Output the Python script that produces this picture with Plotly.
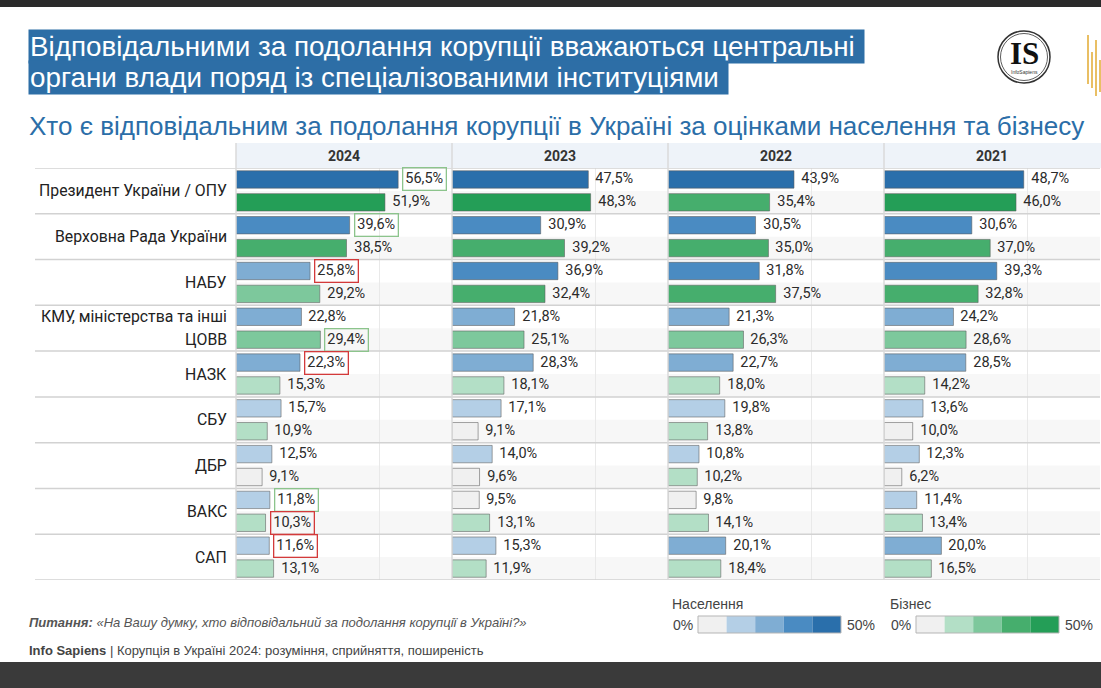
import plotly.graph_objects as go

W, H = 1101, 688

years = ["2024", "2023", "2022", "2021"]
categories = ["Президент України / ОПУ", "Верховна Рада України", "НАБУ",
              "КМУ, міністерства та інші\nЦОВВ", "НАЗК", "СБУ", "ДБР", "ВАКС", "САП"]

pop_2024 = [56.5, 39.6, 25.8, 22.8, 22.3, 15.7, 12.5, 11.8, 11.6]
biz_2024 = [51.9, 38.5, 29.2, 29.4, 15.3, 10.9, 9.1, 10.3, 13.1]
pop_2023 = [47.5, 30.9, 36.9, 21.8, 28.3, 17.1, 14.0, 9.5, 15.3]
biz_2023 = [48.3, 39.2, 32.4, 25.1, 18.1, 9.1, 9.6, 13.1, 11.9]
pop_2022 = [43.9, 30.5, 31.8, 21.3, 22.7, 19.8, 10.8, 9.8, 20.1]
biz_2022 = [35.4, 35.0, 37.5, 26.3, 18.0, 13.8, 10.2, 14.1, 18.4]
pop_2021 = [48.7, 30.6, 39.3, 24.2, 28.5, 13.6, 12.3, 11.4, 20.0]
biz_2021 = [46.0, 37.0, 32.8, 28.6, 14.2, 10.0, 6.2, 13.4, 16.5]

# highlighted labels in 2024: "g" = green frame, "r" = red frame
hl_pop_2024 = ["g", "g", "r", "", "r", "", "", "g", "r"]
hl_biz_2024 = ["", "", "", "g", "", "", "", "r", ""]
no_hl = [""] * len(categories)

pop_by_year = {"2024": pop_2024, "2023": pop_2023, "2022": pop_2022, "2021": pop_2021}
biz_by_year = {"2024": biz_2024, "2023": biz_2023, "2022": biz_2022, "2021": biz_2021}
hl_pop = {"2024": hl_pop_2024, "2023": no_hl, "2022": no_hl, "2021": no_hl}
hl_biz = {"2024": hl_biz_2024, "2023": no_hl, "2022": no_hl, "2021": no_hl}

legend_labels = ["Населення", "Бізнес"]
legend_ticks = ["0%", "50%"]

BLUES = ["#f0f0f0", "#b4cfe6", "#7fadd3", "#4a8bc2", "#2a6fab"]
GREENS = ["#f0f0f0", "#b3dfc6", "#7dc89c", "#46ae6d", "#249e57"]
FRAME = {"g": "#8cc48c", "r": "#d33a3a", "": "rgba(0,0,0,0)"}


def bin_idx(v):
    if v <= 10:
        return 0
    if v < 20:
        return 1
    if v < 30:
        return 2
    if v < 40:
        return 3
    return 4


def fmt(v):
    return f"{v:.1f}".replace(".", ",") + "%"


def px(x):
    return x / W


def py(y):
    return 1 - y / H


PANEL_L, PANEL_W = 236, 216
TOP, BOT, HEAD_TOP = 168, 580, 143
XMAX = PANEL_W / 2.87
n = len(categories)

fig = go.Figure()
shapes, annos = [], []

# header background
shapes.append(dict(type="rect", xref="paper", yref="paper", x0=px(PANEL_L), x1=1,
                   y0=py(TOP), y1=py(HEAD_TOP), fillcolor="#eef3f9", line_width=0, layer="below"))
# business row stripes
for i in range(n):
    shapes.append(dict(type="rect", xref="paper", yref="y", x0=px(PANEL_L), x1=px(1100),
                       y0=2 * i + 0.5, y1=2 * i + 1.5, fillcolor="#f7f7f7", line_width=0, layer="below"))
# category separators
for i in range(n + 1):
    shapes.append(dict(type="line", xref="paper", yref="y", x0=px(35), x1=px(1100),
                       y0=2 * i - 0.5, y1=2 * i - 0.5, line=dict(color="#d2d2d2", width=1.5), layer="above"))

for j, yr in enumerate(years):
    ax = "x" if j == 0 else f"x{j + 1}"
    axkey = "xaxis" if j == 0 else f"xaxis{j + 1}"
    x0p = PANEL_L + PANEL_W * j
    x1p = min(x0p + PANEL_W, 1100)
    fig.update_layout({axkey: dict(domain=[px(x0p), px(x1p)], range=[0, XMAX], anchor="y",
                                   tickvals=[50], showticklabels=False, showgrid=True,
                                   gridcolor="#e9e9e9", zeroline=False, fixedrange=True)})
    pops, bizs = pop_by_year[yr], biz_by_year[yr]
    fig.add_trace(go.Bar(orientation="h", x=pops, y=[2 * i for i in range(n)], width=0.76,
                         marker=dict(color=[BLUES[bin_idx(v)] for v in pops],
                                     line=dict(color="rgba(90,90,90,0.55)", width=1)),
                         xaxis=ax, yaxis="y", hoverinfo="skip", showlegend=False))
    fig.add_trace(go.Bar(orientation="h", x=bizs, y=[2 * i + 1 for i in range(n)], width=0.76,
                         marker=dict(color=[GREENS[bin_idx(v)] for v in bizs],
                                     line=dict(color="rgba(90,90,90,0.55)", width=1)),
                         xaxis=ax, yaxis="y", hoverinfo="skip", showlegend=False))
    for i in range(n):
        for v, yy, h in ((pops[i], 2 * i, hl_pop[yr][i]), (bizs[i], 2 * i + 1, hl_biz[yr][i])):
            annos.append(dict(x=v, y=yy, xref=ax, yref="y", text=fmt(v), showarrow=False,
                              xanchor="left", yanchor="middle", xshift=4,
                              font=dict(family="Roboto", size=14.5, color="#2b2b2b"),
                              bordercolor=FRAME[h], borderwidth=1.3, borderpad=2))
    # header label
    annos.append(dict(x=px((x0p + x1p) / 2), y=py(156), xref="paper", yref="paper", text=f"<b>{yr}</b>",
                      showarrow=False, xanchor="center", yanchor="middle",
                      font=dict(family="Roboto", size=14, color="#333333")))
    # vertical panel separator
    shapes.append(dict(type="line", xref="paper", yref="paper", x0=px(x0p), x1=px(x0p),
                       y0=py(BOT), y1=py(HEAD_TOP), line=dict(color="#dadada", width=1.5), layer="above"))

# category labels
for i, c in enumerate(categories):
    lines = c.split("\n")
    if len(lines) == 1:
        pos = [2 * i + 0.5]
    else:
        pos = [2 * i, 2 * i + 1]
    for t, yy in zip(lines, pos):
        annos.append(dict(x=px(229), y=yy, xref="paper", yref="y", text=t, showarrow=False,
                          xanchor="right", yanchor="middle",
                          font=dict(family="Roboto", size=15.8, color="#222222")))

# title and subtitle
TITLE_FONT = "Liberation Sans Narrow, Arial Narrow, Liberation Sans, sans-serif"
for t, yc in (("Відповідальними за подолання корупції вважаються центральні", 46),
              ("органи влади поряд із спеціалізованими інституціями", 78)):
    annos.append(dict(x=px(28), y=py(yc), xref="paper", yref="paper", text=t + " ", showarrow=False,
                      xanchor="left", yanchor="middle", bgcolor="#2d6ea6", borderpad=1,
                      font=dict(family=TITLE_FONT, size=27.8, color="white")))
annos.append(dict(x=px(27), y=py(126), xref="paper", yref="paper",
                  text="Хто є відповідальним за подолання корупції в Україні за оцінками населення та бізнесу",
                  showarrow=False, xanchor="left", yanchor="middle",
                  font=dict(family=TITLE_FONT, size=26, color="#2b6ea8")))

# footer
annos.append(dict(x=px(27), y=py(622), xref="paper", yref="paper", showarrow=False, xanchor="left",
                  yanchor="middle",
                  text="<b><i>Питання:</i></b> <i>«На Вашу думку, хто відповідальний за подолання корупції в Україні?»</i>",
                  font=dict(family=TITLE_FONT, size=13, color="#555555")))
annos.append(dict(x=px(27), y=py(650), xref="paper", yref="paper", showarrow=False, xanchor="left",
                  yanchor="middle",
                  text="<b>Info Sapiens</b> | Корупція в Україні 2024: розуміння, сприйняття, поширеність",
                  font=dict(family=TITLE_FONT, size=13, color="#444444")))

# colour legends
for lbl, pal, lx in ((legend_labels[0], BLUES, 698), (legend_labels[1], GREENS, 916)):
    bw = 28.6
    for k, col in enumerate(pal):
        shapes.append(dict(type="rect", xref="paper", yref="paper", x0=px(lx + k * bw), x1=px(lx + (k + 1) * bw),
                           y0=py(633), y1=py(616), fillcolor=col, line_width=0))
    shapes.append(dict(type="rect", xref="paper", yref="paper", x0=px(lx), x1=px(lx + 5 * bw),
                       y0=py(633), y1=py(616), line=dict(color="#b5b5b5", width=1)))
    annos.append(dict(x=px(lx - 28), y=py(604), xref="paper", yref="paper", text=lbl, showarrow=False,
                      xanchor="left", yanchor="middle", font=dict(family=TITLE_FONT, size=14, color="#444")))
    annos.append(dict(x=px(lx - 3), y=py(625), xref="paper", yref="paper", text=legend_ticks[0],
                      showarrow=False, xanchor="right", yanchor="middle",
                      font=dict(family=TITLE_FONT, size=14, color="#444")))
    annos.append(dict(x=px(lx + 5 * bw + 4), y=py(625), xref="paper", yref="paper", text=legend_ticks[1],
                      showarrow=False, xanchor="left", yanchor="middle",
                      font=dict(family=TITLE_FONT, size=14, color="#444")))

# dark bands top and bottom
shapes.append(dict(type="rect", xref="paper", yref="paper", x0=0, x1=1, y0=py(7), y1=1,
                   fillcolor="#2b2b2b", line_width=0))
shapes.append(dict(type="rect", xref="paper", yref="paper", x0=0, x1=1, y0=0, y1=py(662),
                   fillcolor="#3a3a3a", line_width=0))

# logo
cx, cy, r = 1024, 57, 26
for rr, wdt in ((r, 1.5), (r - 2.5, 0.8)):
    shapes.append(dict(type="circle", xref="paper", yref="paper", x0=px(cx - rr), x1=px(cx + rr),
                       y0=py(cy + rr), y1=py(cy - rr), line=dict(color="#333", width=wdt)))
annos.append(dict(x=px(cx), y=py(cy - 4), xref="paper", yref="paper", text="<b>IS</b>", showarrow=False,
                  xanchor="center", yanchor="middle",
                  font=dict(family="Liberation Serif, serif", size=31, color="#111")))
annos.append(dict(x=px(cx), y=py(cy + 15), xref="paper", yref="paper", text="InfoSapiens", showarrow=False,
                  xanchor="center", yanchor="middle",
                  font=dict(family="Liberation Sans", size=5, color="#333")))
for gx, gy0, gy1 in ((1088, 35, 84), (1092, 52, 88), (1096, 40, 96), (1100, 60, 92)):
    shapes.append(dict(type="line", xref="paper", yref="paper", x0=px(gx), x1=px(gx), y0=py(gy1), y1=py(gy0),
                       line=dict(color="#e2aa30", width=1.5)))

fig.update_layout(
    width=W, height=H, autosize=False,
    margin=dict(l=0, r=0, t=0, b=0),
    paper_bgcolor="white", plot_bgcolor="rgba(0,0,0,0)",
    barmode="overlay", showlegend=False,
    yaxis=dict(domain=[py(BOT), py(TOP)], range=[2 * n - 0.5, -0.5], showticklabels=False,
               showgrid=False, zeroline=False, fixedrange=True),
    shapes=shapes, annotations=annos,
)

fig.write_html("out.html", config={"displayModeBar": False},
               post_script="document.body.style.margin='0';")
